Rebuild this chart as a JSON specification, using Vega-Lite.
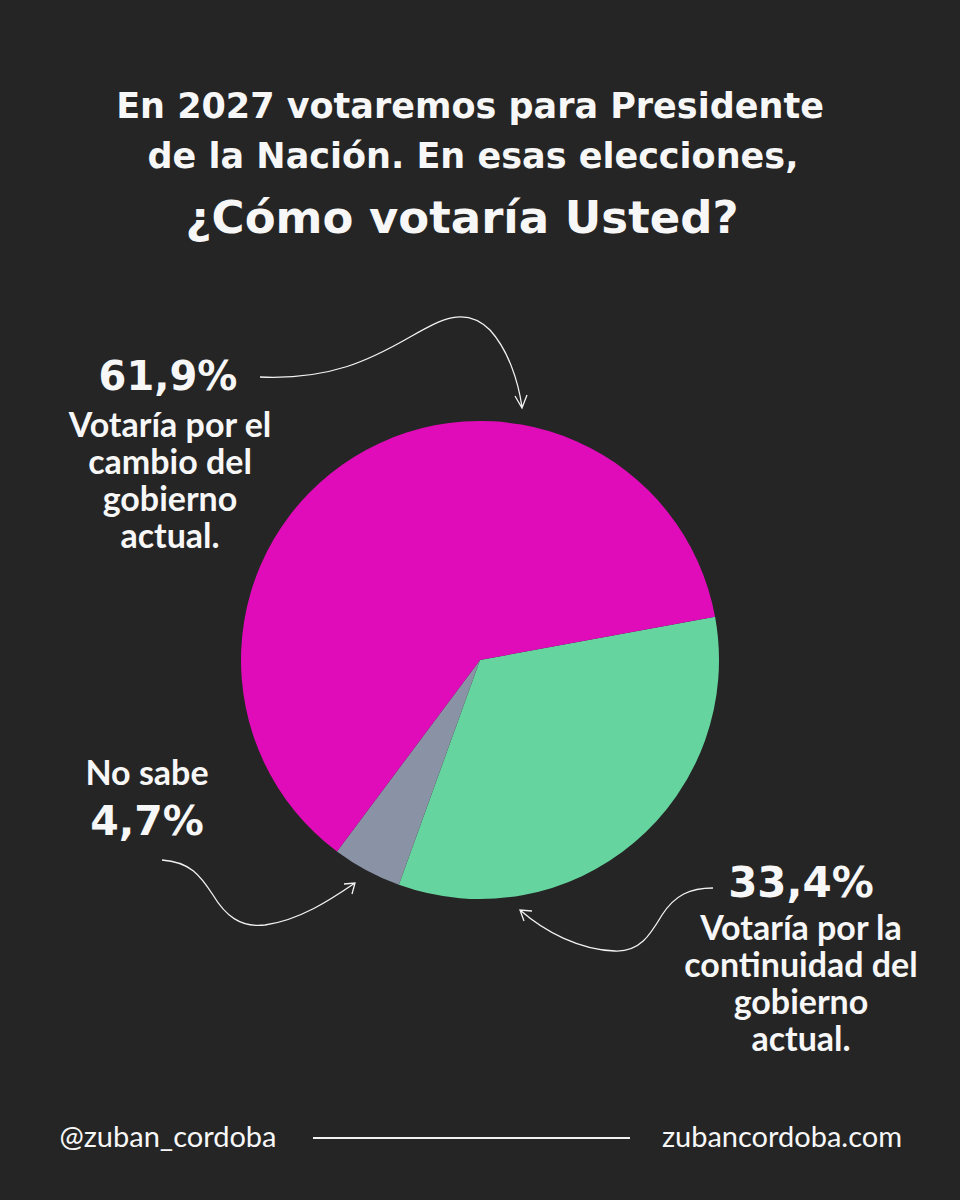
{
  "$schema": "https://vega.github.io/schema/vega-lite/v6.json",
  "width": 960,
  "height": 1080,
  "padding": {"top": 120, "left": 0, "right": 0, "bottom": 0},
  "autosize": {"type": "none"},
  "background": "#252525",
  "config": {"view": {"stroke": null}, "text": {"font": "Lato", "color": "#f7f7f7"}},
  "data": {
    "values": [
      {"opcion": "Continuidad", "pct": 33.4, "orden": 1, "etiqueta": "33,4%", "desc": "Votaría por la\ncontinuidad del\ngobierno\nactual."},
      {"opcion": "No sabe", "pct": 4.7, "orden": 2, "etiqueta": "4,7%", "desc": "No sabe"},
      {"opcion": "Cambio", "pct": 61.9, "orden": 3, "etiqueta": "61,9%", "desc": "Votaría por el\ncambio del\ngobierno\nactual."}
    ]
  },
  "layer": [
    {
      "mark": {"type": "arc", "outerRadius": 239, "stroke": null},
      "encoding": {
        "theta": {"field": "pct", "type": "quantitative", "stack": true, "scale": {"range": [1.3893, 7.6725]}},
        "order": {"field": "orden", "type": "quantitative"},
        "color": {"field": "opcion", "type": "nominal", "legend": null,
          "scale": {"domain": ["Continuidad", "No sabe", "Cambio"], "range": ["#66D49E", "#8A93A6", "#E10CB9"]}}
      }
    },
    {
      "data": {"values": [{"elemento": "flechas"}]},
      "mark": {"type": "point", "filled": false, "color": "#f2f2f2", "opacity": 1, "strokeWidth": 1.3, "size": 40000,
        "shape": "M-2.2,-2.83 C-1.5,-2.8 -1.1,-3.0 -0.7,-3.23 C-0.4,-3.4 -0.15,-3.55 0.1,-3.3 C0.28,-3.1 0.38,-2.8 0.42,-2.53 M0.35,-2.64 L0.42,-2.52 L0.47,-2.65 M-3.18,2.0 C-2.9,2.02 -2.8,2.15 -2.67,2.35 C-2.55,2.55 -2.4,2.68 -2.15,2.65 C-1.8,2.6 -1.5,2.4 -1.25,2.23 M-1.36,2.24 L-1.25,2.23 L-1.28,2.34 M2.33,2.28 C2.1,2.28 1.95,2.35 1.82,2.55 C1.7,2.75 1.6,2.92 1.35,2.91 C1.0,2.9 0.65,2.72 0.4,2.5 M0.52,2.51 L0.4,2.5 L0.44,2.61"},
      "encoding": {}
    },
    {
      "data": {"values": [{"elemento": "linea"}]},
      "mark": {"type": "point", "filled": false, "color": "#f2f2f2", "opacity": 1, "strokeWidth": 2, "size": 40000,
        "shape": "M-1.67,4.78 L1.5,4.78"},
      "encoding": {}
    },
    {
      "mark": {"type": "text", "text": "En 2027 votaremos para Presidente", "font": "DejaVu Sans", "fontSize": 35, "fontWeight": "bold", "dx": -10, "dy": -542, "baseline": "alphabetic", "align": "center"},
      "transform": [{"filter": "datum.orden == 1"}],
      "encoding": {}
    },
    {
      "mark": {"type": "text", "text": "de la Nación. En esas elecciones,", "font": "DejaVu Sans", "fontSize": 35, "fontWeight": "bold", "dx": -7, "dy": -492, "baseline": "alphabetic", "align": "center"},
      "transform": [{"filter": "datum.orden == 1"}],
      "encoding": {}
    },
    {
      "mark": {"type": "text", "text": "¿Cómo votaría Usted?", "font": "DejaVu Sans", "fontSize": 45, "fontWeight": "bold", "dx": -18, "dy": -427, "baseline": "alphabetic", "align": "center"},
      "transform": [{"filter": "datum.orden == 1"}],
      "encoding": {}
    },
    {
      "transform": [{"filter": "datum.opcion == 'Cambio'"}],
      "mark": {"type": "text", "font": "DejaVu Sans", "fontSize": 40, "fontWeight": "bold", "dx": -312, "dy": -270, "baseline": "alphabetic", "align": "center"},
      "encoding": {"text": {"field": "etiqueta", "type": "nominal"}}
    },
    {
      "transform": [{"filter": "datum.opcion == 'Cambio'"}],
      "mark": {"type": "text", "fontSize": 34, "fontWeight": "bold", "dx": -310, "dy": -223, "lineHeight": 37, "lineBreak": "\n", "baseline": "alphabetic", "align": "center"},
      "encoding": {"text": {"field": "desc", "type": "nominal"}}
    },
    {
      "transform": [{"filter": "datum.opcion == 'No sabe'"}],
      "mark": {"type": "text", "fontSize": 34, "fontWeight": "bold", "dx": -333, "dy": 125, "baseline": "alphabetic", "align": "center"},
      "encoding": {"text": {"field": "desc", "type": "nominal"}}
    },
    {
      "transform": [{"filter": "datum.opcion == 'No sabe'"}],
      "mark": {"type": "text", "font": "DejaVu Sans", "fontSize": 41, "fontWeight": "bold", "dx": -333, "dy": 175, "baseline": "alphabetic", "align": "center"},
      "encoding": {"text": {"field": "etiqueta", "type": "nominal"}}
    },
    {
      "transform": [{"filter": "datum.opcion == 'Continuidad'"}],
      "mark": {"type": "text", "font": "DejaVu Sans", "fontSize": 42, "fontWeight": "bold", "dx": 321, "dy": 237, "baseline": "alphabetic", "align": "center"},
      "encoding": {"text": {"field": "etiqueta", "type": "nominal"}}
    },
    {
      "transform": [{"filter": "datum.opcion == 'Continuidad'"}],
      "mark": {"type": "text", "fontSize": 34, "fontWeight": "bold", "dx": 321, "dy": 280, "lineHeight": 37, "lineBreak": "\n", "baseline": "alphabetic", "align": "center"},
      "encoding": {"text": {"field": "desc", "type": "nominal"}}
    },
    {
      "transform": [{"filter": "datum.orden == 1"}],
      "mark": {"type": "text", "text": "@zuban_cordoba", "fontSize": 29, "fontWeight": "normal", "dx": -312, "dy": 487, "baseline": "alphabetic", "align": "center"},
      "encoding": {}
    },
    {
      "transform": [{"filter": "datum.orden == 1"}],
      "mark": {"type": "text", "text": "zubancordoba.com", "fontSize": 29, "fontWeight": "normal", "dx": 302, "dy": 487, "baseline": "alphabetic", "align": "center"},
      "encoding": {}
    }
  ]
}
